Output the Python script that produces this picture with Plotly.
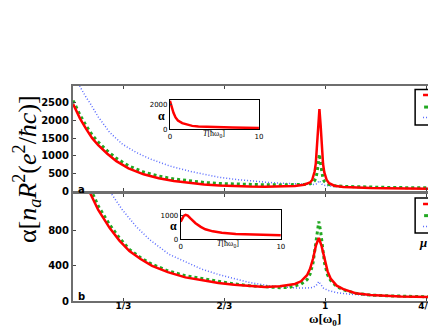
import plotly.graph_objects as go

# ---------------- data ----------------
# panel a (top)
xa_red = [0.167, 0.19, 0.21, 0.23, 0.25, 0.28, 0.31, 0.35, 0.40, 0.45, 0.50, 0.55, 0.60, 0.65, 0.70, 0.75,
          0.80, 0.85, 0.90, 0.93, 0.95, 0.957, 0.965, 0.969, 0.973, 0.977, 0.981, 0.985, 0.989, 0.993,
          0.997, 1.005, 1.013, 1.03, 1.06, 1.10, 1.15, 1.20, 1.25, 1.30, 1.353]
ya_red = [2460, 2050, 1760, 1500, 1300, 1060, 850, 650, 480, 370, 290, 235, 195, 165, 145, 135,
          130, 135, 150, 185, 250, 320, 560, 790, 1220, 1870, 2320, 1860, 1200, 770,
          540, 320, 230, 160, 125, 105, 95, 88, 82, 76, 72]
xa_green = xa_red
ya_green = [2560, 2150, 1850, 1590, 1390, 1140, 930, 720, 545, 430, 350, 290, 250, 222, 205, 192,
            185, 182, 185, 195, 215, 235, 300, 370, 520, 780, 1050, 770, 500, 350,
            280, 220, 190, 160, 140, 128, 118, 112, 106, 102, 98]
xa_blue = [0.167, 0.19, 0.21, 0.222, 0.25, 0.288, 0.33, 0.376, 0.42, 0.484, 0.55, 0.60, 0.647, 0.70,
           0.75, 0.81, 0.85, 0.90, 0.93, 0.95, 0.965, 0.973, 0.977, 0.981, 0.985, 0.989, 0.997,
           1.013, 1.03, 1.06, 1.10, 1.20, 1.30, 1.353]
ya_blue = [3450, 2950, 2650, 2500, 2100, 1660, 1330, 1095, 920, 722, 570, 480, 400, 340,
           295, 253, 230, 205, 190, 185, 190, 215, 260, 300, 255, 205, 170,
           150, 135, 120, 110, 97, 88, 85]

# panel b (bottom)
xb_red = [0.167, 0.19, 0.21, 0.224, 0.25, 0.288, 0.32, 0.353, 0.39, 0.428, 0.48, 0.538, 0.60, 0.647,
          0.70, 0.75, 0.80, 0.85, 0.90, 0.92, 0.94, 0.95, 0.96, 0.97, 0.979, 0.988, 0.998, 1.008,
          1.018, 1.038, 1.06, 1.10, 1.15, 1.20, 1.25, 1.30, 1.353]
yb_red = [2000, 1620, 1390, 1228, 1040, 833, 690, 571, 480, 402, 330, 270, 235, 206,
          185, 170, 160, 168, 195, 225, 295, 367, 485, 640, 720, 630, 465, 338,
          257, 175, 135, 88, 68, 58, 52, 48, 45]
xb_green = [0.167, 0.19, 0.21, 0.23, 0.25, 0.288, 0.32, 0.353, 0.39, 0.428, 0.48, 0.538, 0.60, 0.647,
            0.70, 0.75, 0.80, 0.85, 0.88, 0.90, 0.92, 0.94, 0.95, 0.96, 0.967, 0.973, 0.979, 0.985,
            0.991, 0.998, 1.008, 1.018, 1.038, 1.06, 1.10, 1.15, 1.20, 1.25, 1.30, 1.353]
yb_green = [2080, 1680, 1440, 1240, 1085, 870, 720, 589, 495, 420, 345, 289, 250, 222,
            195, 175, 160, 152, 155, 175, 192, 243, 306, 437, 609, 800, 908, 795,
            605, 430, 298, 235, 165, 128, 88, 68, 60, 54, 50, 47]
xb_blue = [0.167, 0.25, 0.293, 0.33, 0.375, 0.42, 0.484, 0.53, 0.592, 0.65, 0.701, 0.75, 0.81, 0.85,
           0.90, 0.94, 0.96, 0.97, 0.975, 0.979, 0.983, 0.988, 0.995, 1.01, 1.04, 1.08, 1.15,
           1.25, 1.353]
yb_blue = [3500, 1650, 1228, 1040, 852, 700, 533, 460, 364, 300, 251, 212, 177, 162,
           150, 148, 155, 175, 200, 222, 200, 170, 145, 120, 95, 78, 62,
           52, 46]

# insets: alpha vs T
ia_T = [0, 0.2, 0.4, 0.63, 0.9, 1.38, 2.0, 2.5, 3.2, 4.3, 5.5, 7.0, 8.5, 10]
ia_alpha = [2350, 1800, 1350, 970, 720, 500, 350, 275, 225, 190, 160, 135, 120, 110]
ib_T = [0, 0.15, 0.3, 0.49, 0.7, 1.0, 1.48, 2.0, 2.46, 3.2, 4.1, 5.5, 7.4, 10]
ib_alpha = [755, 900, 1000, 1043, 1010, 880, 687, 530, 429, 340, 283, 230, 197, 172]

x_tickvals = [1/3, 2/3, 1, 4/3]
x_ticktext = ["1/3", "2/3", "1", "4/3"]
ya_ticks = [0, 500, 1000, 1500, 2000, 2500]
yb_ticks = [0, 400, 800]

RED = "#ff0000"
GREEN = "#22a822"
BLUE = "#5a6cff"

fig = go.Figure()

def add_set(xr, yr, xg, yg, xbl, ybl, xax, yax):
    fig.add_trace(go.Scatter(x=xbl, y=ybl, mode="lines", xaxis=xax, yaxis=yax,
                             line=dict(color=BLUE, width=1.5, dash="1px,2px"), showlegend=False))
    fig.add_trace(go.Scatter(x=xg, y=yg, mode="lines", xaxis=xax, yaxis=yax,
                             line=dict(color=GREEN, width=3, dash="3px,3px"), showlegend=False))
    fig.add_trace(go.Scatter(x=xr, y=yr, mode="lines", xaxis=xax, yaxis=yax,
                             line=dict(color=RED, width=2.5), showlegend=False))

add_set(xa_red, ya_red, xa_green, ya_green, xa_blue, ya_blue, "x2", "y2")
add_set(xb_red, yb_red, xb_green, yb_green, xb_blue, yb_blue, "x", "y")

fig.add_trace(go.Scatter(x=ia_T, y=ia_alpha, mode="lines", xaxis="x3", yaxis="y3",
                         line=dict(color=RED, width=2.5), showlegend=False))
fig.add_trace(go.Scatter(x=ib_T, y=ib_alpha, mode="lines", xaxis="x4", yaxis="y4",
                         line=dict(color=RED, width=2.5), showlegend=False))

tickf = dict(family="DejaVu Sans", size=10, color="black", weight="bold")
axline = dict(showline=True, linecolor="#6e6e6e", linewidth=2, mirror="ticks",
              ticks="inside", ticklen=3, tickcolor="#444", showgrid=False, zeroline=False)
xr = [1/6, 1.353]

inset_ax = dict(showline=True, linecolor="black", linewidth=1, mirror=True, ticks="inside",
                ticklen=2, showgrid=False, zeroline=False,
                tickfont=dict(family="DejaVu Sans", size=7, color="black"))

# page body has an 8px margin; figure is sized so the plot area lands where the reference has it
fig.update_layout(
    width=428, height=319,
    margin=dict(l=65, r=0, t=78, b=26),
    paper_bgcolor="white", plot_bgcolor="white",
    xaxis=dict(domain=[0, 1], range=xr, anchor="y", tickvals=x_tickvals, ticktext=x_ticktext,
               ticklabelstandoff=-5,
               tickfont=dict(family="DejaVu Sans", size=9, color="black", weight="bold"), **axline),
    yaxis=dict(domain=[0, 0.5], range=[0, 1228], anchor="x", tickvals=yb_ticks,
               tickfont=tickf, **axline),
    xaxis2=dict(domain=[0, 1], range=xr, anchor="y2", tickvals=x_tickvals, showticklabels=False,
                **axline),
    yaxis2=dict(domain=[0.51, 1], range=[0, 2970], anchor="x2", tickvals=ya_ticks,
                tickfont=tickf, **axline),
    xaxis3=dict(domain=[0.270, 0.518], range=[0, 10], anchor="y3", tickvals=[0, 10], **inset_ax),
    yaxis3=dict(domain=[0.799, 0.937], range=[0, 2450], anchor="x3", tickvals=[0, 2000], **inset_ax),
    xaxis4=dict(domain=[0.300, 0.579], range=[0, 10], anchor="y4", tickvals=[0, 10], **inset_ax),
    yaxis4=dict(domain=[0.287, 0.423], range=[0, 1250], anchor="x4", tickvals=[0, 1000], **inset_ax),
)

def A(text, x, y, size, family="Liberation Serif", xanchor="center", yanchor="middle", angle=0):
    return dict(text=text, xref="paper", yref="paper", x=x, y=y, xanchor=xanchor, yanchor=yanchor,
                textangle=angle, showarrow=False, font=dict(family=family, size=size, color="black"))

ann = [
    A("α[<i>n<sub>a</sub>R</i><sup>2</sup>(<i>e</i><sup>2</sup>/<i>ħc</i>)]", -0.128, 0.614, 26, angle=-90),
    A("<b>ω[ω<sub>0</sub>]</b>", 0.702, -0.088, 13),
    A("<b>a</b>", 0.008, 0.52, 10, family="DejaVu Sans", xanchor="left"),
    A("<b>b</b>", 0.008, 0.021, 10, family="DejaVu Sans", xanchor="left"),
    A("<b>α</b>", 0.263, 0.86, 12, xanchor="right"),
    A("<i>T</i>[ħω<sub>0</sub>]", 0.394, 0.775, 8),
    A("<b>α</b>", 0.294, 0.348, 12, xanchor="right"),
    A("<i>T</i>[ħω<sub>0</sub>]", 0.433, 0.263, 8),
    A("<b><i>μ</i></b>", 0.985, 0.758, 13, xanchor="left"),
    A("<b><i>μ</i></b>", 0.958, 0.274, 13, xanchor="left"),
]
fig.update_layout(annotations=ann)

shapes = []
for (y0, y1, yr_, yg_, yb_) in [(0.819, 0.984, 0.958, 0.902, 0.853), (0.316, 0.479, 0.451, 0.397, 0.346)]:
    shapes.append(dict(type="rect", xref="paper", yref="paper", x0=0.953, x1=1.2, y0=y0, y1=y1,
                       line=dict(color="black", width=1.5), fillcolor="white"))
    shapes.append(dict(type="line", xref="paper", yref="paper", x0=0.975, x1=1.1, y0=yr_, y1=yr_,
                       line=dict(color=RED, width=2.5)))
    shapes.append(dict(type="line", xref="paper", yref="paper", x0=0.978, x1=0.996, y0=yg_, y1=yg_,
                       line=dict(color=GREEN, width=3)))
    shapes.append(dict(type="line", xref="paper", yref="paper", x0=0.975, x1=1.1, y0=yb_, y1=yb_,
                       line=dict(color=BLUE, width=1.5, dash="1px,2px")))
fig.update_layout(shapes=shapes)

fig.write_html("out.html")
